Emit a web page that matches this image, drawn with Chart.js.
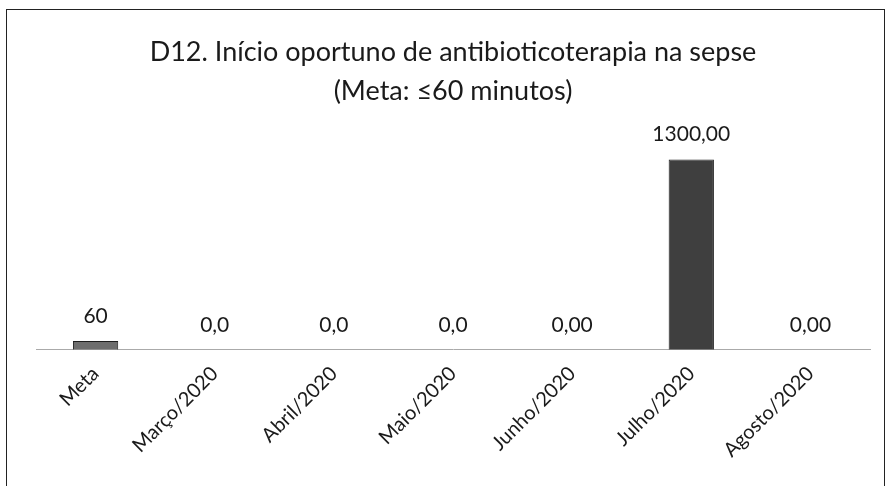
<!DOCTYPE html>
<html>
<head>
<meta charset="utf-8">
<script src="https://cdn.jsdelivr.net/npm/chart.js@4"></script>
<style>
  html, body { margin: 0; padding: 0; background: #fff; }
  .wrap { position: relative; width: 885px; height: 486px; overflow: hidden; }
  .frame { position: absolute; left: 6px; top: 9px; width: 877px; height: 490px; border: 1.5px solid #222; border-bottom: none; }
  canvas { position: absolute; left: 0; top: 0; }
</style>
</head>
<body>
<div class="wrap">
  <div class="frame"></div>
  <canvas id="myChart" width="885" height="486"></canvas>
</div>
<script>
const categories = ['Meta', 'Março/2020', 'Abril/2020', 'Maio/2020', 'Junho/2020', 'Julho/2020', 'Agosto/2020']
const values = [60, 0, 0, 0, 0, 1300, 0]
// decimal places shown in each value label
const labelDecimals = [0, 1, 1, 1, 2, 2, 2]
const barColors = ['#6e6e6e', '#3f3f3f', '#3f3f3f', '#3f3f3f', '#3f3f3f', '#3f3f3f', '#3f3f3f']
const titleLines = ['D12. Início oportuno de antibioticoterapia na sepse', '(Meta: ≤60 minutos)']

const textColor = '#1a1a1a'
const fontFamily = 'Lato, "Open Sans", sans-serif'

// value labels above bars \\
const valueLabels = {
    id: 'valueLabels',
    afterDatasetsDraw(chart) {
        const c = chart.ctx
        const meta = chart.getDatasetMeta(0)
        c.save()
        c.font = '21px ' + fontFamily
        c.fillStyle = textColor
        c.textAlign = 'center'
        c.textBaseline = 'middle'
        meta.data.forEach((bar, i) => {
            const txt = values[i].toFixed(labelDecimals[i]).replace('.', ',')
            c.fillText(txt, bar.x, bar.y - 25)
        })
        c.restore()
    }
}

var ctx = document.getElementById('myChart')
var chart = new Chart(ctx, {
    type: 'bar',
    data: {
        labels: categories,
        datasets: [{
            data: values,
            backgroundColor: barColors,
            borderColor: '#1e1e1e',
            borderWidth: 1,
            barPercentage: 0.38,
            categoryPercentage: 1,
        }]
    },
    options: {
        responsive: false,
        animation: false,
        layout: { padding: { left: 36, right: 15, top: 17, bottom: 20 } },
        plugins: {
            legend: { display: false },
            tooltip: { enabled: false },
            title: {
                display: true,
                text: titleLines,
                color: textColor,
                font: { family: fontFamily, size: 27, weight: 'normal', lineHeight: 1.44 },
                padding: { top: 16, bottom: 10 }
            }
        },
        scales: {
            x: {
                grid: { display: false },
                border: { display: true, color: '#aaaaaa', width: 1, dash: [1, 3] },
                ticks: {
                    color: textColor,
                    font: { family: fontFamily, size: 20 },
                    minRotation: 45,
                    maxRotation: 45,
                    padding: 4
                }
            },
            y: {
                display: false,
                min: 0,
                max: 1565
            }
        }
    },
    plugins: [valueLabels]
})
</script>
</body>
</html>
